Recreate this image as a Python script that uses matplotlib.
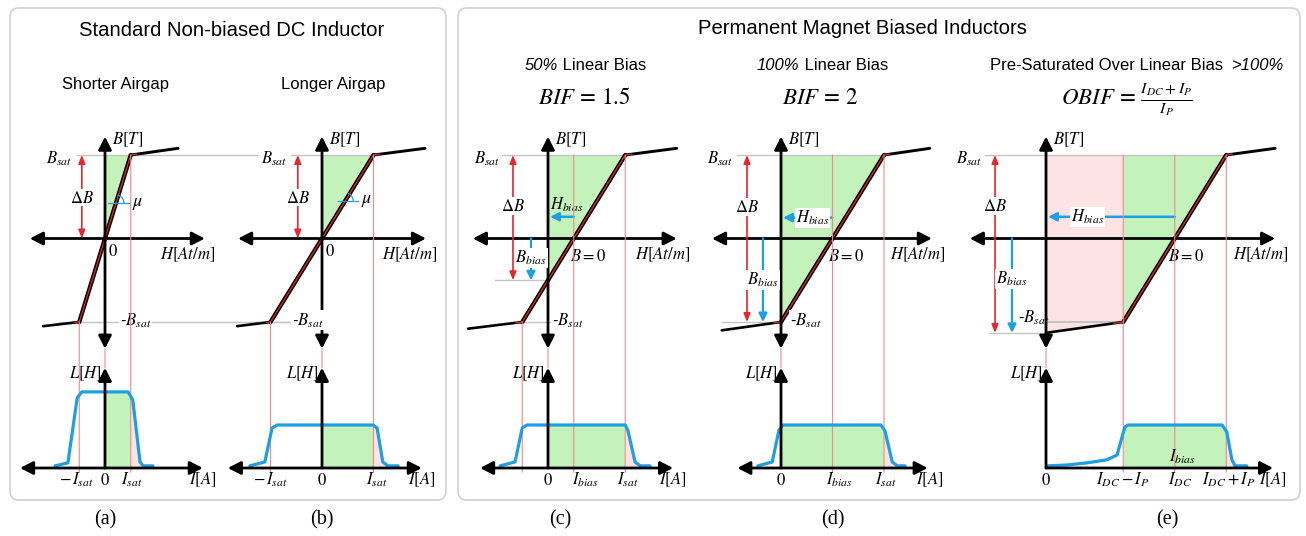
import numpy as np
import matplotlib.pyplot as plt
from matplotlib.patches import Arc, ConnectionPatch, FancyBboxPatch

plt.rcParams["font.family"] = "Liberation Sans"
plt.rcParams["mathtext.fontset"] = "stix"

# ---------------- data (H and I share one relative unit, B in units of B_sat) ----------------
# B-H curves: saturated end, lower knee, upper knee, saturated end
a_H = [-1.20, -0.50, 0.50, 1.42]
a_B = [-1.05, -1.00, 1.00, 1.08]
b_H = [-1.65, -1.00, 1.00, 2.00]
b_B = [-1.05, -1.00, 1.00, 1.08]
c_H = [-1.55, -0.50, 1.50, 2.50]
c_B = [-1.08, -1.00, 1.00, 1.08]
d_H = [-1.15, 0.00, 2.00, 2.89]
d_B = [-1.10, -1.00, 1.00, 1.08]
e_H = [0.00, 1.50, 3.50, 4.45]
e_B = [-1.13, -1.00, 1.00, 1.08]

# L-I curves
a_I = [-0.97, -0.72, -0.54, -0.45, 0.45, 0.54, 0.68, 0.74, 0.93]
a_L = [0.05, 0.12, 1.63, 1.77, 1.77, 1.58, 0.14, 0.05, 0.05]
b_I = [-1.40, -1.11, -0.97, -0.87, 0.99, 1.07, 1.18, 1.28, 1.48]
b_L = [0.05, 0.14, 0.93, 1.00, 1.00, 0.93, 0.14, 0.05, 0.05]
c_I = [-0.93, -0.64, -0.50, -0.41, 1.50, 1.55, 1.69, 1.79, 1.98]
c_L = [0.05, 0.14, 0.93, 1.00, 1.00, 0.88, 0.14, 0.05, 0.05]
d_I = [-0.45, -0.17, -0.04, 0.04, 1.94, 2.02, 2.16, 2.26, 2.41]
d_L = [0.05, 0.14, 0.88, 1.00, 1.00, 0.86, 0.14, 0.05, 0.05]
e_I = [0.02, 0.41, 0.80, 1.18, 1.38, 1.46, 1.53, 1.59, 3.42, 3.51, 3.61, 3.67, 3.90]
e_L = [0.05, 0.07, 0.12, 0.19, 0.30, 0.65, 0.95, 1.00, 1.00, 0.84, 0.19, 0.05, 0.05]

# bias field / current of the biased panels
c_bias = 0.5
d_bias = 1.0
e_bias = 2.5

# ---------------- layout (pixels) ----------------
FIG_W, FIG_H = 1306, 536
PX_H = 51.5      # px per H / I unit
PX_B = 83.5      # px per B unit
PX_L = 43.0      # px per L unit
ROW_B0 = 238.5   # row of B = 0
ROW_L0 = 468.0   # row of L = 0
B_LIM = (-1.32, 1.22)
L_TOP = 2.33

GREEN = "#c3f2bb"
PINK = "#fde3e3"
THIN_RED = "#ee8a8a"
RED = "#e8262b"
BLUE = "#1f9fe3"
GREY = "#c4c4c4"

fig = plt.figure(figsize=(FIG_W / 100, FIG_H / 100), dpi=100)

bg = fig.add_axes([0, 0, 1, 1])
bg.set_xlim(0, FIG_W)
bg.set_ylim(FIG_H, 0)
bg.set_axis_off()
for x, w in [(10, 436), (458, 842)]:
    bg.add_patch(FancyBboxPatch((x, 8), w, 492, boxstyle="round,pad=0,rounding_size=9",
                                fc="white", ec="#d4d4d4", lw=1.3))


def overlay(col, row0, px_y):
    ax = fig.add_axes([0, 0, 1, 1])
    ax.set_xlim(-col / PX_H, (FIG_W - col) / PX_H)
    ax.set_ylim((row0 - FIG_H) / px_y, row0 / px_y)
    ax.set_axis_off()
    ax.patch.set_alpha(0)
    return ax


def arrow(ax, p0, p1, style="-|>", color="black", lw=2.0, hl=0.55, hw=0.28, ms=14, z=6):
    ax.annotate("", xy=p1, xytext=p0, zorder=z,
                arrowprops=dict(arrowstyle=f"{style},head_length={hl},head_width={hw}",
                                color=color, lw=lw, mutation_scale=ms, shrinkA=0, shrinkB=0))


def label(ax, x, y, s, ha="center", size=12, box=False, **kw):
    bb = dict(fc="white", ec="none", pad=0.6) if box else None
    ax.text(x, y, s, ha=ha, va="center", fontsize=size, bbox=bb, zorder=7, **kw)


def bh_panel(ax, Hc, Bc, h_lim, h_lab):
    ax.plot(Hc[:2], Bc[:2], color="black", lw=1.9, solid_capstyle="round", zorder=4)
    ax.plot(Hc[2:], Bc[2:], color="black", lw=2.1, solid_capstyle="round", zorder=4)
    ax.plot(Hc[1:3], Bc[1:3], color="black", lw=3.1, solid_capstyle="round", zorder=4)
    hr = [Hc[1] + 0.12 * (Hc[0] - Hc[1]), Hc[1], Hc[2], Hc[2] + 0.12 * (Hc[3] - Hc[2])]
    br = [Bc[1] + 0.12 * (Bc[0] - Bc[1]), Bc[1], Bc[2], Bc[2] + 0.12 * (Bc[3] - Bc[2])]
    ax.plot(hr, br, color=RED, lw=0.9, zorder=5)
    arrow(ax, (h_lim[0], 0), (h_lim[1], 0), style="<|-|>")
    arrow(ax, (0, B_LIM[0]), (0, B_LIM[1]), style="<|-|>")
    label(ax, 0.14, 1.18, "$B[T]$", ha="left")
    label(ax, h_lab, -0.2, "$H[At/m]$", ha="left")


def li_panel(ax, Ic, Lc, i_lim, green, pink, both=True):
    for (lo, hi), col in [(green, GREEN), (pink, PINK)]:
        xs = np.linspace(lo, hi, 80)
        ax.fill_between(xs, 0, np.interp(xs, Ic, Lc), color=col, lw=0, zorder=1)
    ax.plot(Ic, Lc, color=BLUE, lw=2.3, solid_joinstyle="round",
            solid_capstyle="round", zorder=4)
    arrow(ax, (i_lim[0], 0), (i_lim[1], 0), style="<|-|>" if both else "-|>")
    arrow(ax, (0, 0), (0, L_TOP))
    label(ax, -0.06, 2.2, "$L[H]$", ha="right")


def guide(ax_bh, ax_li, h, b_top):
    con = ConnectionPatch(xyA=(h, b_top), coordsA=ax_bh.transData,
                          xyB=(h, -0.1), coordsB=ax_li.transData,
                          color=THIN_RED, lw=0.8, zorder=2)
    ax_li.add_artist(con)


def link_axes(ax_bh, ax_li):
    con = ConnectionPatch(xyA=(0, B_LIM[0]), coordsA=ax_bh.transData,
                          xyB=(0, L_TOP), coordsB=ax_li.transData,
                          color=THIN_RED, lw=0.8, zorder=0)
    ax_li.add_artist(con)


def green_bh(ax, Hc, Bc, h_left, b_lo, b_hi=1.0):
    bs = np.linspace(b_lo, b_hi, 60)
    ax.fill_betweenx(bs, h_left, np.interp(bs, Bc, Hc), color=GREEN, lw=0, zorder=1)


def mu_mark(ax, Hc, Bc, b, h0, h1, h_txt):
    ax.plot([h0, h1], [b, b], color=BLUE, lw=0.9, zorder=5)
    hc = np.interp(b, Bc, Hc)
    ang = np.degrees(np.arctan2((Bc[2] - Bc[1]) * PX_B, (Hc[2] - Hc[1]) * PX_H))
    r = 8.0
    ax.add_patch(Arc((hc, b), 2 * r / PX_H, 2 * r / PX_B, theta1=0, theta2=ang,
                     color=BLUE, lw=0.9, zorder=5))
    label(ax, h_txt, b, r"$\mu$", size=13)


def grey(ax, b, h0, h1, lw=1.0):
    ax.plot([h0, h1], [b, b], color=GREY, lw=lw, zorder=1.5)


# ---------------- panel (a) ----------------
bh = overlay(105, ROW_B0, PX_B)
li = overlay(105, ROW_L0, PX_L)
grey(bh, 1, -0.55, 2.95)
grey(bh, -1, -0.9, 3.6)
green_bh(bh, a_H, a_B, 0, 0)
bh_panel(bh, a_H, a_B, (-1.46, 1.94), 1.07)
arrow(bh, (-0.45, 0), (-0.45, 1), style="<|-|>", color=RED, lw=1.2, hl=0.5, hw=0.2, ms=10)
label(bh, -0.45, 0.49, r"$\Delta B$", box=True)
mu_mark(bh, a_H, a_B, 0.425, 0.06, 0.49, 0.64)
label(bh, 0.06, -0.15, "$0$", ha="left")
label(bh, -0.64, 0.96, "$B_{sat}$", ha="right")
label(bh, 0.29, -0.98, "-$B_{sat}$", ha="left", box=True)
li_panel(li, a_I, a_L, (-1.65, 1.90), (0, 0.5), (0.5, 0.74))
for h, b in [(a_H[1], -1), (a_H[2], 1)]:
    guide(bh, li, h, b)
link_axes(bh, li)
label(li, -0.56, -0.28, r"$-\,I_{sat}$")
label(li, 0, -0.28, "$0$")
label(li, 0.52, -0.28, "$I_{sat}$")
label(li, 1.89, -0.28, "$I[A]$")

# ---------------- panel (b) ----------------
bh = overlay(322, ROW_B0, PX_B)
li = overlay(322, ROW_L0, PX_L)
grey(bh, 1, -0.6, 1.0)
grey(bh, -1, -1.3, 0)
green_bh(bh, b_H, b_B, 0, 0)
bh_panel(bh, b_H, b_B, (-1.63, 2.02), 1.17)
arrow(bh, (-0.47, 0), (-0.47, 1), style="<|-|>", color=RED, lw=1.2, hl=0.5, hw=0.2, ms=10)
label(bh, -0.47, 0.49, r"$\Delta B$", box=True)
mu_mark(bh, b_H, b_B, 0.45, 0.31, 0.70, 0.86)
label(bh, 0.06, -0.15, "$0$", ha="left")
label(bh, -0.68, 0.96, "$B_{sat}$", ha="right", box=True)
label(bh, -0.58, -0.98, "-$B_{sat}$", ha="left", box=True)
li_panel(li, b_I, b_L, (-1.83, 1.94), (0, 1.0), (1.0, 1.28))
for h, b in [(b_H[1], -1), (b_H[2], 1)]:
    guide(bh, li, h, b)
link_axes(bh, li)
label(li, -1.0, -0.28, r"$-\,I_{sat}$")
label(li, 0, -0.28, "$0$")
label(li, 1.07, -0.28, "$I_{sat}$")
label(li, 1.94, -0.28, "$I[A]$")

# ---------------- panel (c) ----------------
bh = overlay(548, ROW_B0, PX_B)
li = overlay(548, ROW_L0, PX_L)
c_b0 = np.interp(0, c_H, c_B)
grey(bh, 1, -0.9, c_H[2])
grey(bh, c_b0, -1.03, 0)
grey(bh, -1, c_H[1], 0.05)
green_bh(bh, c_H, c_B, 0, c_b0)
bh_panel(bh, c_H, c_B, (-1.46, 2.5), 1.69)
arrow(bh, (-0.68, c_b0), (-0.68, 1), style="<|-|>", color=RED, lw=1.2, hl=0.5, hw=0.2, ms=10)
label(bh, -0.68, 0.39, r"$\Delta B$", box=True)
arrow(bh, (-0.33, 0), (-0.33, c_b0), color=BLUE, lw=1.6, hl=0.5, hw=0.25, ms=10)
label(bh, -0.33, -0.23, "$B_{bias}$", box=True)
arrow(bh, (c_bias, 0.26), (0.04, 0.26), color=BLUE, lw=1.8, hl=0.5, hw=0.25, ms=10)
label(bh, 0.37, 0.4, "$H_{bias}$")
label(bh, 0.43, -0.21, "$B=0$", ha="left")
label(bh, -0.93, 0.96, "$B_{sat}$", ha="right")
label(bh, 0.08, -0.98, "-$B_{sat}$", ha="left", box=True)
li_panel(li, c_I, c_L, (-1.32, 2.43), (0, 1.5), (1.5, 1.79))
for h, b in [(c_H[1], -1), (c_bias, 1), (c_H[2], 1)]:
    guide(bh, li, h, b)
link_axes(bh, li)
label(li, 0, -0.28, "$0$")
label(li, 0.72, -0.28, "$I_{bias}$")
label(li, 1.55, -0.28, "$I_{sat}$")
label(li, 2.43, -0.28, "$I[A]$")

# ---------------- panel (d) ----------------
bh = overlay(781, ROW_B0, PX_B)
li = overlay(781, ROW_L0, PX_L)
grey(bh, 1, -0.85, d_H[2])
grey(bh, -1, -1.15, 0)
green_bh(bh, d_H, d_B, 0, -1)
bh_panel(bh, d_H, d_B, (-1.34, 2.93), 2.12)
arrow(bh, (-0.66, -1), (-0.66, 1), style="<|-|>", color=RED, lw=1.2, hl=0.5, hw=0.2, ms=10)
label(bh, -0.66, 0.38, r"$\Delta B$", box=True)
arrow(bh, (-0.35, 0), (-0.35, -1), color=BLUE, lw=1.6, hl=0.5, hw=0.25, ms=10)
label(bh, -0.35, -0.5, "$B_{bias}$", box=True)
arrow(bh, (d_bias, 0.25), (0.04, 0.25), color=BLUE, lw=1.8, hl=0.5, hw=0.25, ms=10)
label(bh, 0.62, 0.25, "$H_{bias}$", box=True)
label(bh, 0.91, -0.21, "$B=0$", ha="left")
label(bh, -0.93, 0.96, "$B_{sat}$", ha="right")
label(bh, 0.17, -0.98, "-$B_{sat}$", ha="left", box=True)
li_panel(li, d_I, d_L, (-0.85, 2.85), (0, 2.0), (2.0, 2.26))
for h, b in [(d_bias, 1), (d_H[2], 1)]:
    guide(bh, li, h, b)
link_axes(bh, li)
label(li, 0, -0.28, "$0$")
label(li, 1.14, -0.28, "$I_{bias}$")
label(li, 2.03, -0.28, "$I_{sat}$")
label(li, 2.89, -0.28, "$I[A]$")

# ---------------- panel (e) ----------------
bh = overlay(1046, ROW_B0, PX_B)
li = overlay(1046, ROW_L0, PX_L)
xs = np.linspace(0, e_H[1], 40)
bh.fill_between(xs, np.interp(xs, e_H, e_B), 1, color=PINK, lw=0, zorder=1)
grey(bh, 1, -1.18, e_H[2])
grey(bh, e_B[0], -1.09, 0)
grey(bh, -1, 0, e_H[1], lw=1.4)
green_bh(bh, e_H, e_B, e_H[1], -1)
bh_panel(bh, e_H, e_B, (-1.48, 4.45), 3.63)
arrow(bh, (-0.99, e_B[0]), (-0.99, 1), style="<|-|>", color=RED, lw=1.2, hl=0.5, hw=0.2, ms=10)
label(bh, -0.99, 0.39, r"$\Delta B$", box=True)
arrow(bh, (-0.66, 0), (-0.66, e_B[0]), color=BLUE, lw=1.6, hl=0.5, hw=0.25, ms=10)
label(bh, -0.66, -0.48, "$B_{bias}$", box=True)
arrow(bh, (e_bias, 0.26), (0.04, 0.26), color=BLUE, lw=1.8, hl=0.5, hw=0.25, ms=10)
label(bh, 0.8, 0.26, "$H_{bias}$", box=True)
label(bh, 2.37, -0.21, "$B=0$", ha="left")
label(bh, -1.24, 0.96, "$B_{sat}$", ha="right")
label(bh, -0.54, -0.95, "-$B_{sat}$", ha="left")
li_panel(li, e_I, e_L, (0, 4.41), (e_H[1], e_H[2]), (e_H[2], 3.67), both=False)
for h in [e_H[1], e_bias, e_H[2]]:
    guide(bh, li, h, 1)
link_axes(bh, li)
label(li, 0, -0.28, "$0$")
label(li, 1.48, -0.28, "$I_{DC}-I_P$")
label(li, 2.6, -0.28, "$I_{DC}$")
label(li, 3.54, -0.28, "$I_{DC}+I_P$")
label(li, 4.41, -0.28, "$I[A]$")
label(li, 2.65, 0.26, "$I_{bias}$")

# ---------------- titles ----------------
bg.text(232, 31, "Standard Non-biased DC Inductor", ha="center", va="center", fontsize=14.6)
bg.text(862, 28, "Permanent Magnet Biased Inductors", ha="center", va="center", fontsize=14.6)
bg.text(115, 85, "Shorter Airgap", ha="center", va="center", fontsize=12)
bg.text(333, 85, "Longer Airgap", ha="center", va="center", fontsize=12)
for x, it, rest in [(525, "50%", " Linear Bias"), (757, "100%", " Linear Bias")]:
    t = bg.text(x, 66, it, ha="left", va="center", fontsize=12, style="italic")
    bg.annotate(rest, xy=(1, 0.5), xycoords=t, ha="left", va="center", fontsize=12)
t = bg.text(990, 66, "Pre-Saturated Over Linear Bias  ", ha="left", va="center", fontsize=12)
bg.annotate(">100%", xy=(1, 0.5), xycoords=t, ha="left", va="center", fontsize=12, style="italic")
bg.text(584, 98, r"$BIF\,=\,1.5$", ha="center", va="center", fontsize=16.5)
bg.text(820, 98, r"$BIF\,=\,2$", ha="center", va="center", fontsize=16.5)
bg.text(1127, 100, r"$OBIF\,=\,\frac{I_{DC}+I_P}{I_P}$", ha="center", va="center", fontsize=16.5)
for x, s in [(105, "(a)"), (322, "(b)"), (560, "(c)"), (833, "(d)"), (1167, "(e)")]:
    bg.text(x, 520, s, ha="center", va="center", fontsize=14.5, family="Liberation Serif")

fig.savefig("out.png", dpi=100)
